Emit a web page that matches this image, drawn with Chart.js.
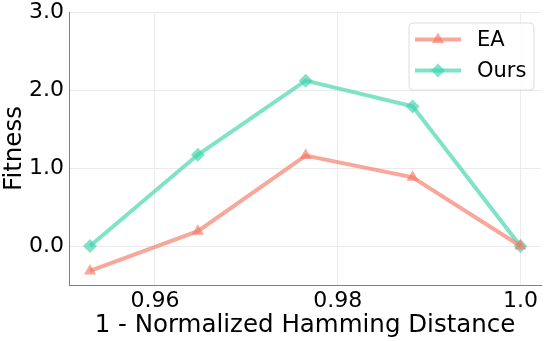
<!DOCTYPE html>
<html>
<head>
<meta charset="utf-8">
<script src="https://cdn.jsdelivr.net/npm/chart.js@4.4.0/dist/chart.umd.min.js"></script>
<style>
  html, body { margin: 0; padding: 0; background: #fff; }
  #wrap { width: 548px; height: 341px; }
</style>
</head>
<body>
<div id="wrap"><canvas id="chart" width="548" height="341"></canvas></div>
<script>
// x positions: 1 - normalized hamming distance
const xValues = [0.9529, 0.9647, 0.9765, 0.9882, 1.0]
const eaValues = [-0.32, 0.19, 1.16, 0.88, 0.0]
const oursValues = [0.0, 1.17, 2.12, 1.79, 0.0]
const xTicks = [0.96, 0.98, 1.0]
const xTickLabels = ['0.96', '0.98', '1.0']
const yTicks = [0, 1, 2, 3]
const yTickLabels = ['0.0', '1.0', '2.0', '3.0']

const FONT = 'DejaVu Sans'
const EA_COLOR = 'rgba(245, 120, 100, 0.65)'
const OURS_COLOR = 'rgba(60, 212, 170, 0.65)'

// draws the boxed legend inside the plot, like matplotlib does
const boxLegend = {
  id: 'boxLegend',
  afterDraw(chart) {
    const ctx = chart.ctx
    const x = 409, y = 23, w = 125, h = 67
    ctx.save()
    ctx.beginPath()
    ctx.roundRect(x, y, w, h, 4)
    ctx.fillStyle = 'rgba(255,255,255,0.85)'
    ctx.fill()
    ctx.strokeStyle = '#dddddd'
    ctx.lineWidth = 1
    ctx.stroke()
    chart.data.datasets.forEach((ds, i) => {
      const cy = y + 16.5 + i * 31
      ctx.beginPath()
      ctx.moveTo(x + 6, cy)
      ctx.lineTo(x + 52, cy)
      ctx.strokeStyle = ds.borderColor
      ctx.lineWidth = ds.borderWidth
      ctx.stroke()
      ctx.fillStyle = ds.pointBackgroundColor
      ctx.strokeStyle = ds.pointBackgroundColor
      Chart.helpers.drawPoint(ctx, {
        pointStyle: ds.pointStyle,
        radius: ds.pointRadius,
        borderWidth: 0
      }, x + 29, cy)
      ctx.fillStyle = '#000'
      ctx.font = '21px "' + FONT + '"'
      ctx.textBaseline = 'middle'
      ctx.fillText(ds.label, x + 68, cy + 1)
    })
    ctx.restore()
  }
}

const ctx = document.getElementById('chart').getContext('2d')
const chart = new Chart(ctx, {
  type: 'line',
  data: {
    datasets: [
      {
        label: 'EA',
        data: xValues.map((x, i) => ({ x: x, y: eaValues[i] })),
        borderColor: EA_COLOR,
        backgroundColor: EA_COLOR,
        pointBackgroundColor: EA_COLOR,
        pointBorderWidth: 0,
        borderWidth: 4,
        pointStyle: 'triangle',
        pointRadius: 7,
        tension: 0,
      },
      {
        label: 'Ours',
        data: xValues.map((x, i) => ({ x: x, y: oursValues[i] })),
        borderColor: OURS_COLOR,
        backgroundColor: OURS_COLOR,
        pointBackgroundColor: OURS_COLOR,
        pointBorderWidth: 0,
        borderWidth: 4,
        pointStyle: 'rectRot',
        pointRadius: 7,
        tension: 0,
      },
    ],
  },
  options: {
    responsive: false,
    animation: false,
    layout: { padding: { top: 12, right: 3, left: 0, bottom: 0 } },
    plugins: {
      legend: { display: false },
      tooltip: { enabled: false },
    },
    scales: {
      x: {
        type: 'linear',
        min: 0.9506,
        max: 1.00225,
        afterBuildTicks: (s) => { s.ticks = xTicks.map((v) => ({ value: v })) },
        afterFit: (s) => { s.height = 56; s.paddingLeft = 0; s.paddingRight = 0 },
        ticks: {
          callback: (v) => xTickLabels[xTicks.indexOf(v)],
          font: { family: FONT, size: 22 },
          color: '#000',
          padding: 3,
          maxRotation: 0,
        },
        grid: { color: '#ebebeb', drawTicks: false },
        border: { color: '#808080', width: 1 },
        title: {
          display: true,
          text: '1 - Normalized Hamming Distance',
          font: { family: FONT, size: 24.5 },
          color: '#000',
          padding: { top: 0, bottom: 1 },
        },
      },
      y: {
        min: -0.5,
        max: 3.0,
        afterBuildTicks: (s) => { s.ticks = yTicks.map((v) => ({ value: v })) },
        afterFit: (s) => { s.width = 69; s.paddingTop = 0; s.paddingBottom = 0 },
        ticks: {
          callback: (v) => yTickLabels[yTicks.indexOf(v)],
          font: { family: FONT, size: 22 },
          color: '#000',
          padding: 5,
        },
        grid: { color: '#ebebeb', drawTicks: false },
        border: { color: '#808080', width: 1 },
        title: {
          display: true,
          text: 'Fitness',
          font: { family: FONT, size: 24.5 },
          color: '#000',
          padding: { top: 0, bottom: 0 },
        },
      },
    },
  },
  plugins: [boxLegend],
})
</script>
</body>
</html>
